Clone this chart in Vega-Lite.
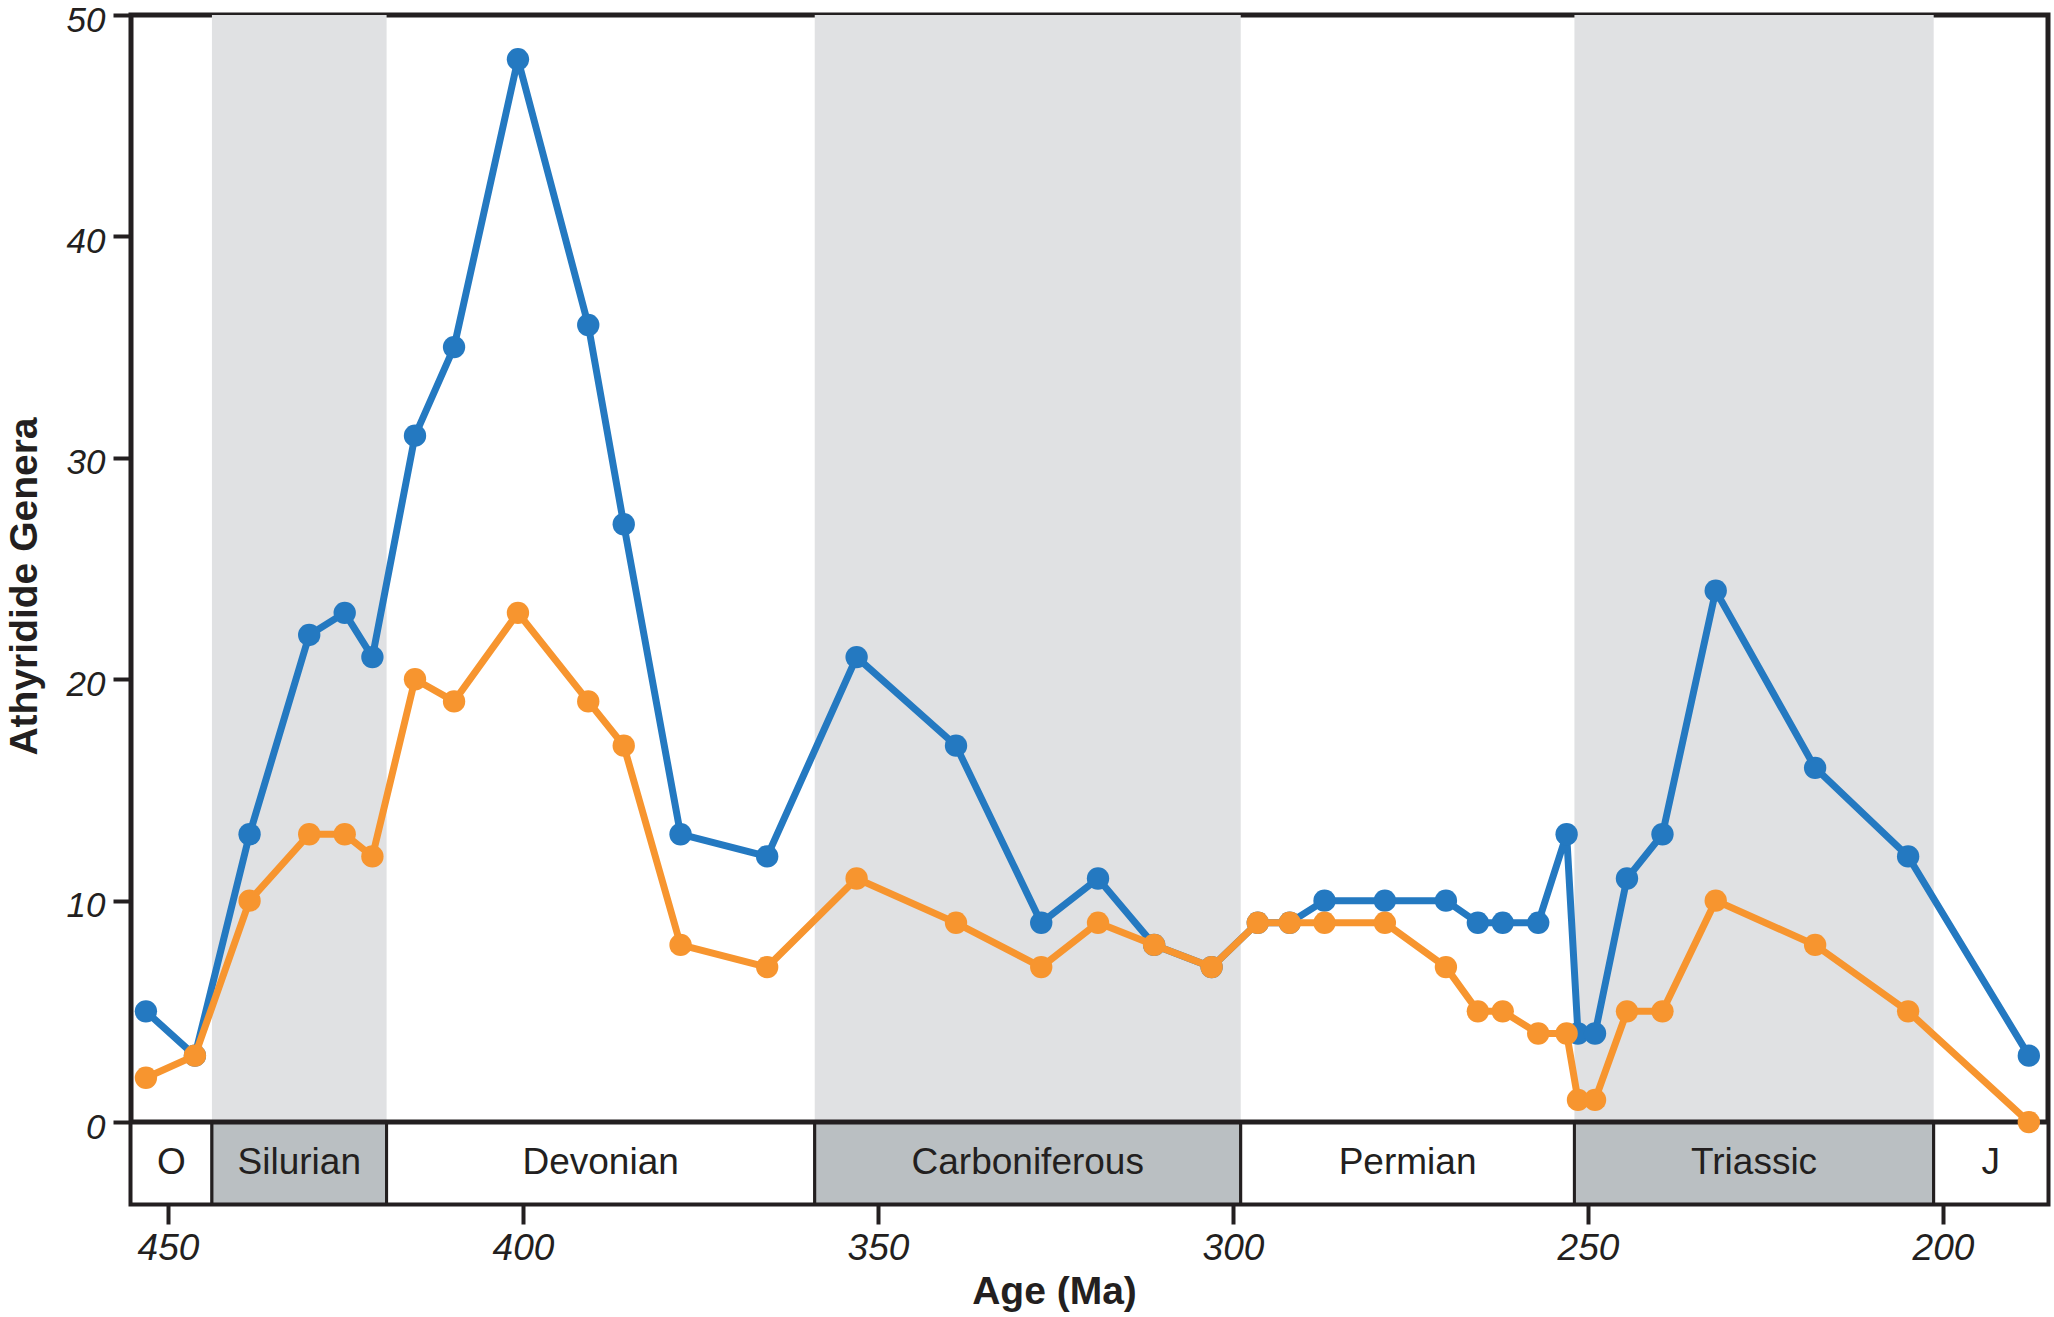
{
  "$schema": "https://vega.github.io/schema/vega-lite/v6.json",
  "width": 1917,
  "height": 1189,
  "autosize": {"type": "none"},
  "padding": {"left": 131, "top": 15, "right": 6, "bottom": 113},
  "background": "white",
  "config": {
    "view": {"stroke": "#231f20", "strokeWidth": 5},
    "font": "Liberation Sans",
    "axisX": {
      "labelFont": "Liberation Sans", "labelFontStyle": "italic", "labelFontSize": 37, "labelColor": "#231f20",
      "tickColor": "#231f20", "tickWidth": 4, "tickSize": 20, "labelPadding": 6,
      "domain": false, "grid": false,
      "titleFont": "Liberation Sans", "titleFontSize": 39, "titleFontWeight": "bold", "titleColor": "#231f20", "titlePadding": 6,
      "titleX": 923
    },
    "axisY": {
      "labelFont": "Liberation Sans", "labelFontStyle": "italic", "labelFontSize": 35, "labelColor": "#231f20",
      "tickColor": "#231f20", "tickWidth": 4, "tickSize": 18, "labelPadding": 8, "labelOffset": 5,
      "domain": false, "grid": false,
      "titleFont": "Liberation Sans", "titleFontSize": 39, "titleFontWeight": "bold", "titleColor": "#231f20", "titlePadding": 22,
      "titleY": 571
    }
  },
  "datasets": {
    "periods": [
      {"period": "O", "start": 455.2, "end": 443.8},
      {"period": "Silurian", "start": 443.8, "end": 419.2},
      {"period": "Devonian", "start": 419.2, "end": 358.9},
      {"period": "Carboniferous", "start": 358.9, "end": 298.9},
      {"period": "Permian", "start": 298.9, "end": 251.9},
      {"period": "Triassic", "start": 251.9, "end": 201.3},
      {"period": "J", "start": 201.3, "end": 185.2}
    ],
    "genera": [
      {"age": 453.1, "total": 5, "subset": 2},
      {"age": 446.2, "total": 3, "subset": 3},
      {"age": 438.5, "total": 13, "subset": 10},
      {"age": 430.1, "total": 22, "subset": 13},
      {"age": 425.1, "total": 23, "subset": 13},
      {"age": 421.2, "total": 21, "subset": 12},
      {"age": 415.2, "total": 31, "subset": 20},
      {"age": 409.7, "total": 35, "subset": 19},
      {"age": 400.7, "total": 48, "subset": 23},
      {"age": 390.8, "total": 36, "subset": 19},
      {"age": 385.8, "total": 27, "subset": 17},
      {"age": 377.8, "total": 13, "subset": 8},
      {"age": 365.6, "total": 12, "subset": 7},
      {"age": 353.0, "total": 21, "subset": 11},
      {"age": 339.0, "total": 17, "subset": 9},
      {"age": 327.0, "total": 9, "subset": 7},
      {"age": 319.0, "total": 11, "subset": 9},
      {"age": 311.1, "total": 8, "subset": 8},
      {"age": 303.0, "total": 7, "subset": 7},
      {"age": 296.5, "total": 9, "subset": 9},
      {"age": 292.0, "total": 9, "subset": 9},
      {"age": 287.1, "total": 10, "subset": 9},
      {"age": 278.6, "total": 10, "subset": 9},
      {"age": 270.0, "total": 10, "subset": 7},
      {"age": 265.5, "total": 9, "subset": 5},
      {"age": 262.0, "total": 9, "subset": 5},
      {"age": 257.0, "total": 9, "subset": 4},
      {"age": 253.0, "total": 13, "subset": 4},
      {"age": 251.4, "total": 4, "subset": 1},
      {"age": 249.0, "total": 4, "subset": 1},
      {"age": 244.5, "total": 11, "subset": 5},
      {"age": 239.5, "total": 13, "subset": 5},
      {"age": 232.0, "total": 24, "subset": 10},
      {"age": 218.0, "total": 16, "subset": 8},
      {"age": 204.9, "total": 12, "subset": 5},
      {"age": 187.9, "total": 3, "subset": 0}
    ]
  },
  "layer": [
    {
      "data": {"name": "periods"},
      "transform": [{"filter": {"field": "period", "oneOf": ["Silurian", "Carboniferous", "Triassic"]}}],
      "mark": {"type": "rect", "fill": "#e0e1e3"},
      "encoding": {
        "x": {"field": "start", "type": "quantitative", "title": "Age (Ma)", "scale": {"domain": [185.2, 455.2], "reverse": true, "nice": false, "zero": false}},
        "x2": {"field": "end"},
        "y": {"datum": 0, "type": "quantitative", "scale": {"domain": [-3.7, 50], "nice": false, "zero": false}},
        "y2": {"datum": 50}
      }
    },
    {
      "data": {"name": "periods"},
      "mark": {"type": "rect", "stroke": "#231f20", "strokeWidth": 3},
      "encoding": {
        "x": {"field": "start", "type": "quantitative", "title": "Age (Ma)", "scale": {"domain": [185.2, 455.2], "reverse": true, "nice": false, "zero": false}},
        "x2": {"field": "end"},
        "y": {"datum": -3.7, "type": "quantitative", "scale": {"domain": [-3.7, 50], "nice": false, "zero": false}},
        "y2": {"datum": 0},
        "fill": {"field": "period", "type": "nominal", "legend": null,
          "scale": {"domain": ["O", "Silurian", "Devonian", "Carboniferous", "Permian", "Triassic", "J"],
                    "range": ["#ffffff", "#babfc2", "#ffffff", "#babfc2", "#ffffff", "#babfc2", "#ffffff"]}}
      }
    },
    {
      "data": {"name": "periods"},
      "transform": [{"calculate": "(datum.start + datum.end) / 2", "as": "mid"}],
      "mark": {"type": "text", "fontSize": 37, "font": "Liberation Sans", "color": "#231f20", "baseline": "middle", "align": "center"},
      "encoding": {
        "x": {"field": "mid", "type": "quantitative", "title": "Age (Ma)", "scale": {"domain": [185.2, 455.2], "reverse": true, "nice": false, "zero": false}},
        "y": {"datum": -1.85, "type": "quantitative", "scale": {"domain": [-3.7, 50], "nice": false, "zero": false}},
        "text": {"field": "period"}
      }
    },
    {
      "data": {"values": [{"level": 0}]},
      "mark": {"type": "rule", "color": "#231f20", "strokeWidth": 5},
      "encoding": {
        "y": {"field": "level", "type": "quantitative", "title": "Athyridide Genera", "scale": {"domain": [-3.7, 50], "nice": false, "zero": false}}
      }
    },
    {
      "data": {"name": "genera"},
      "mark": {"type": "line", "color": "#2479c1", "strokeWidth": 7},
      "encoding": {
        "x": {"field": "age", "type": "quantitative", "title": "Age (Ma)", "scale": {"domain": [185.2, 455.2], "reverse": true, "nice": false, "zero": false}, "axis": {"values": [450, 400, 350, 300, 250, 200]}},
        "y": {"field": "total", "type": "quantitative", "title": "Athyridide Genera", "scale": {"domain": [-3.7, 50], "nice": false, "zero": false}, "axis": {"values": [0, 10, 20, 30, 40, 50]}}
      }
    },
    {
      "data": {"name": "genera"},
      "mark": {"type": "circle", "color": "#2479c1", "size": 500, "opacity": 1},
      "encoding": {
        "x": {"field": "age", "type": "quantitative", "title": "Age (Ma)", "scale": {"domain": [185.2, 455.2], "reverse": true, "nice": false, "zero": false}},
        "y": {"field": "total", "type": "quantitative", "title": "Athyridide Genera", "scale": {"domain": [-3.7, 50], "nice": false, "zero": false}}
      }
    },
    {
      "data": {"name": "genera"},
      "mark": {"type": "line", "color": "#f7952f", "strokeWidth": 7},
      "encoding": {
        "x": {"field": "age", "type": "quantitative", "title": "Age (Ma)", "scale": {"domain": [185.2, 455.2], "reverse": true, "nice": false, "zero": false}},
        "y": {"field": "subset", "type": "quantitative", "title": "Athyridide Genera", "scale": {"domain": [-3.7, 50], "nice": false, "zero": false}}
      }
    },
    {
      "data": {"name": "genera"},
      "mark": {"type": "circle", "color": "#f7952f", "size": 500, "opacity": 1},
      "encoding": {
        "x": {"field": "age", "type": "quantitative", "title": "Age (Ma)", "scale": {"domain": [185.2, 455.2], "reverse": true, "nice": false, "zero": false}},
        "y": {"field": "subset", "type": "quantitative", "title": "Athyridide Genera", "scale": {"domain": [-3.7, 50], "nice": false, "zero": false}}
      }
    }
  ]
}
